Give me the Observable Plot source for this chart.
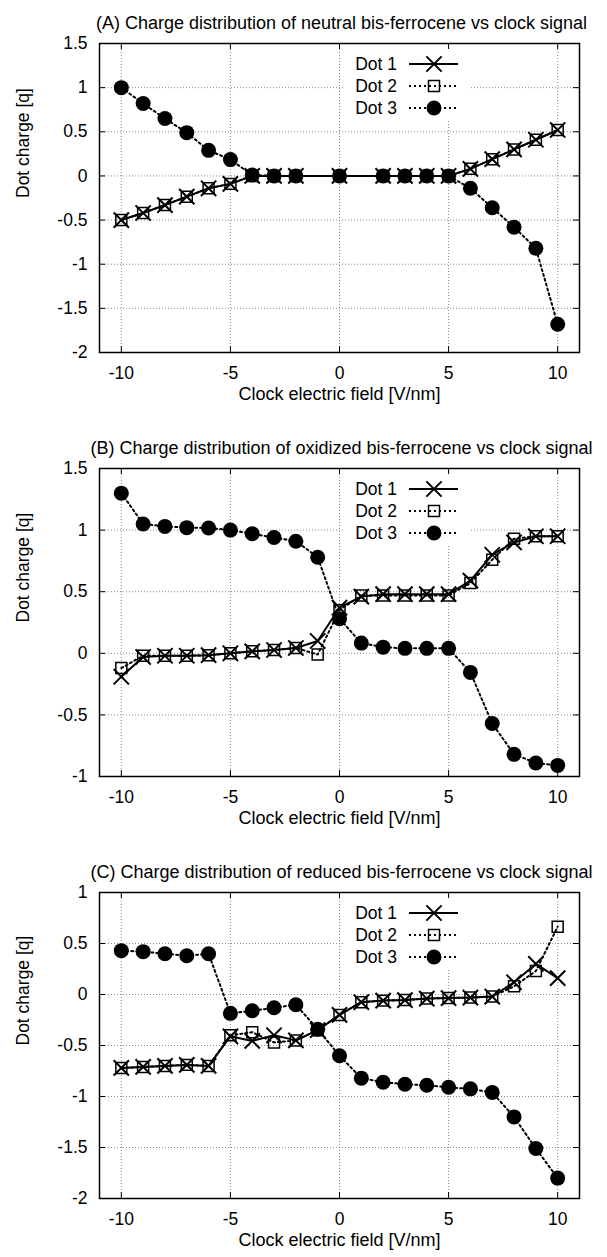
<!DOCTYPE html>
<html>
<head>
<meta charset="utf-8">
<script src="https://cdn.jsdelivr.net/npm/d3@7"></script>
<script src="https://cdn.jsdelivr.net/npm/@observablehq/plot@0.6"></script>
<style>
  html, body { margin: 0; padding: 0; background: #fff; }
  #chart { width: 607px; }
  #chart svg { display: block; }
</style>
</head>
<body>
<div id="chart"></div>
<script>
// ---------- data ----------
const xTicks = [-10, -5, 0, 5, 10];
const seriesNames = ["Dot 1", "Dot 2", "Dot 3"];
const xLabel = "Clock electric field [V/nm]";
const yLabel = "Dot charge [q]";

// Panel A: neutral
const titleA = "(A) Charge distribution of neutral bis-ferrocene vs clock signal";
const xA = [-10, -9, -8, -7, -6, -5, -4, -3, -2, 0, 2, 3, 4, 5, 6, 7, 8, 9, 10];
const dot1A = [-0.50, -0.42, -0.33, -0.235, -0.14, -0.09, 0, 0, 0, 0, 0, 0, 0, 0, 0.08, 0.19, 0.30, 0.41, 0.52];
const dot2A = [-0.50, -0.42, -0.33, -0.235, -0.14, -0.09, 0, 0, 0, 0, 0, 0, 0, 0, 0.08, 0.19, 0.30, 0.41, 0.52];
const dot3A = [1.00, 0.82, 0.65, 0.49, 0.29, 0.185, 0.01, 0, 0, 0, 0, 0, 0, 0, -0.14, -0.36, -0.58, -0.82, -1.68];
const yTicksA = [-2, -1.5, -1, -0.5, 0, 0.5, 1, 1.5];

// Panel B: oxidized
const titleB = "(B) Charge distribution of oxidized bis-ferrocene vs clock signal";
const xB = [-10, -9, -8, -7, -6, -5, -4, -3, -2, -1, 0, 1, 2, 3, 4, 5, 6, 7, 8, 9, 10];
const dot1B = [-0.19, -0.03, -0.02, -0.02, -0.015, 0.0, 0.016, 0.027, 0.043, 0.10, 0.37, 0.46, 0.48, 0.48, 0.48, 0.48, 0.59, 0.80, 0.90, 0.95, 0.95];
const dot2B = [-0.12, -0.02, -0.02, -0.02, -0.015, 0.0, 0.016, 0.027, 0.043, -0.01, 0.35, 0.47, 0.47, 0.47, 0.47, 0.47, 0.57, 0.76, 0.93, 0.95, 0.95];
const dot3B = [1.30, 1.05, 1.03, 1.02, 1.017, 1.00, 0.97, 0.94, 0.91, 0.78, 0.28, 0.083, 0.05, 0.04, 0.04, 0.04, -0.155, -0.57, -0.82, -0.89, -0.91];
const yTicksB = [-1, -0.5, 0, 0.5, 1, 1.5];

// Panel C: reduced
const titleC = "(C) Charge distribution of reduced bis-ferrocene vs clock signal";
const xC = [-10, -9, -8, -7, -6, -5, -4, -3, -2, -1, 0, 1, 2, 3, 4, 5, 6, 7, 8, 9, 10];
const dot1C = [-0.72, -0.71, -0.70, -0.69, -0.70, -0.41, -0.455, -0.40, -0.45, -0.35, -0.20, -0.075, -0.06, -0.055, -0.04, -0.035, -0.03, -0.02, 0.12, 0.30, 0.16];
const dot2C = [-0.72, -0.71, -0.70, -0.69, -0.70, -0.40, -0.37, -0.47, -0.45, -0.35, -0.20, -0.075, -0.06, -0.055, -0.04, -0.035, -0.03, -0.02, 0.08, 0.23, 0.665];
const dot3C = [0.43, 0.42, 0.40, 0.38, 0.40, -0.185, -0.16, -0.13, -0.10, -0.34, -0.60, -0.82, -0.86, -0.88, -0.89, -0.91, -0.925, -0.96, -1.20, -1.51, -1.80];
const yTicksC = [-2, -1.5, -1, -0.5, 0, 0.5, 1];

// ---------- drawing ----------
const FONT = "'Liberation Sans', Arial, Helvetica, sans-serif";
const ML = 99, MR = 28, MT = 43;
const DOT_DASH = "2,3";

function legendMark(index, scales, values, dims) {
  const top = dims ? dims.marginTop : MT;
  const left = dims ? dims.marginLeft : ML;
  const g = d3.create("svg:g");
  g.append("rect")
    .attr("x", left + 244).attr("y", top + 1)
    .attr("width", 127).attr("height", 76)
    .attr("fill", "white");
  const styles = [
    {dash: null, sym: d3.symbolTimes, size: Math.PI * 49, fill: "none", sw: 2, lw: 2},
    {dash: DOT_DASH, sym: d3.symbolSquare, size: Math.PI * 6.2 * 6.2, fill: "none", sw: 1.5, lw: 2},
    {dash: DOT_DASH, sym: d3.symbolCircle, size: Math.PI * 7.5 * 7.5, fill: "black", sw: 0, lw: 2}
  ];
  seriesNames.forEach((name, i) => {
    const cy = top + 21 + 22 * i;
    g.append("text")
      .attr("x", left + 298).attr("y", cy).attr("dy", "0.35em")
      .attr("text-anchor", "end").attr("fill", "black")
      .style("font-family", FONT).style("font-size", "17.5px")
      .text(name);
    const s = styles[i];
    g.append("line")
      .attr("x1", left + 310).attr("x2", left + 359)
      .attr("y1", cy).attr("y2", cy)
      .attr("stroke", "black").attr("stroke-width", s.lw)
      .attr("stroke-dasharray", s.dash);
    g.append("path")
      .attr("transform", `translate(${left + 335},${cy})`)
      .attr("d", d3.symbol(s.sym, s.size)())
      .attr("fill", s.fill)
      .attr("stroke", s.fill === "black" ? "none" : "black")
      .attr("stroke-width", s.sw);
  });
  return g.node();
}

function panel({title, x, d1, d2, d3v, yDomain, yTicks, height, frameH}) {
  const W = 607 - ML - MR;
  const rows = (vals, s) => x.map((xv, i) => ({x: xv, y: vals[i], s}));
  const r1 = rows(d1, seriesNames[0]);
  const r2 = rows(d2, seriesNames[1]);
  const r3 = rows(d3v, seriesNames[2]);
  const fmt = d => String(d);
  return Plot.plot({
    width: 607,
    height,
    marginLeft: ML,
    marginRight: MR,
    marginTop: MT,
    marginBottom: height - MT - frameH,
    style: {fontFamily: FONT, fontSize: "17.5px", color: "black", background: "white"},
    x: {domain: [-11, 11]},
    y: {domain: yDomain},
    marks: [
      Plot.gridX(xTicks, {stroke: "#8c8c8c", strokeOpacity: 1, strokeDasharray: "1,2"}),
      Plot.gridY(yTicks, {stroke: "#8c8c8c", strokeOpacity: 1, strokeDasharray: "1,2"}),
      legendMark,
      Plot.ruleX(xTicks, {insetTop: frameH - 6, stroke: "black"}),
      Plot.ruleX(xTicks, {insetBottom: frameH - 6, stroke: "black"}),
      Plot.ruleY(yTicks, {insetRight: W - 6, stroke: "black"}),
      Plot.ruleY(yTicks, {insetLeft: W - 6, stroke: "black"}),
      Plot.axisX(xTicks, {tickSize: 0, tickPadding: 14, label: null, tickFormat: fmt, fontSize: 17.5}),
      Plot.axisY(yTicks, {tickSize: 0, tickPadding: 12, label: null, tickFormat: fmt, fontSize: 17.5}),
      Plot.frame({stroke: "black", strokeWidth: 1.5}),
      Plot.line(r1, {x: "x", y: "y", stroke: "black", strokeWidth: 2}),
      Plot.dot(r1, {x: "x", y: "y", symbol: "times", r: 7, stroke: "black", strokeWidth: 2}),
      Plot.line(r2, {x: "x", y: "y", stroke: "black", strokeWidth: 2, strokeDasharray: DOT_DASH}),
      Plot.dot(r2, {x: "x", y: "y", symbol: "square", r: 6.2, fill: "none", stroke: "black", strokeWidth: 1.5}),
      Plot.line(r3, {x: "x", y: "y", stroke: "black", strokeWidth: 2, strokeDasharray: DOT_DASH}),
      Plot.dot(r3, {x: "x", y: "y", symbol: "circle", r: 7.5, fill: "black", stroke: "none"}),
      Plot.text([title], {frameAnchor: "top", dy: -27, dx: 2, fontSize: 18, fill: "black"}),
      Plot.text([xLabel], {frameAnchor: "bottom", dy: 47, fontSize: 18, fill: "black"}),
      Plot.text([yLabel], {frameAnchor: "left", dx: -76, rotate: -90, fontSize: 17.5, fill: "black"})
    ]
  });
}

const chart = document.getElementById("chart");
chart.appendChild(panel({title: titleA, x: xA, d1: dot1A, d2: dot2A, d3v: dot3A, yDomain: [-2, 1.5], yTicks: yTicksA, height: 425, frameH: 309}));
chart.appendChild(panel({title: titleB, x: xB, d1: dot1B, d2: dot2B, d3v: dot3B, yDomain: [-1, 1.5], yTicks: yTicksB, height: 424, frameH: 308}));
chart.appendChild(panel({title: titleC, x: xC, d1: dot1C, d2: dot2C, d3v: dot3C, yDomain: [-2, 1], yTicks: yTicksC, height: 408, frameH: 306}));
</script>
</body>
</html>
